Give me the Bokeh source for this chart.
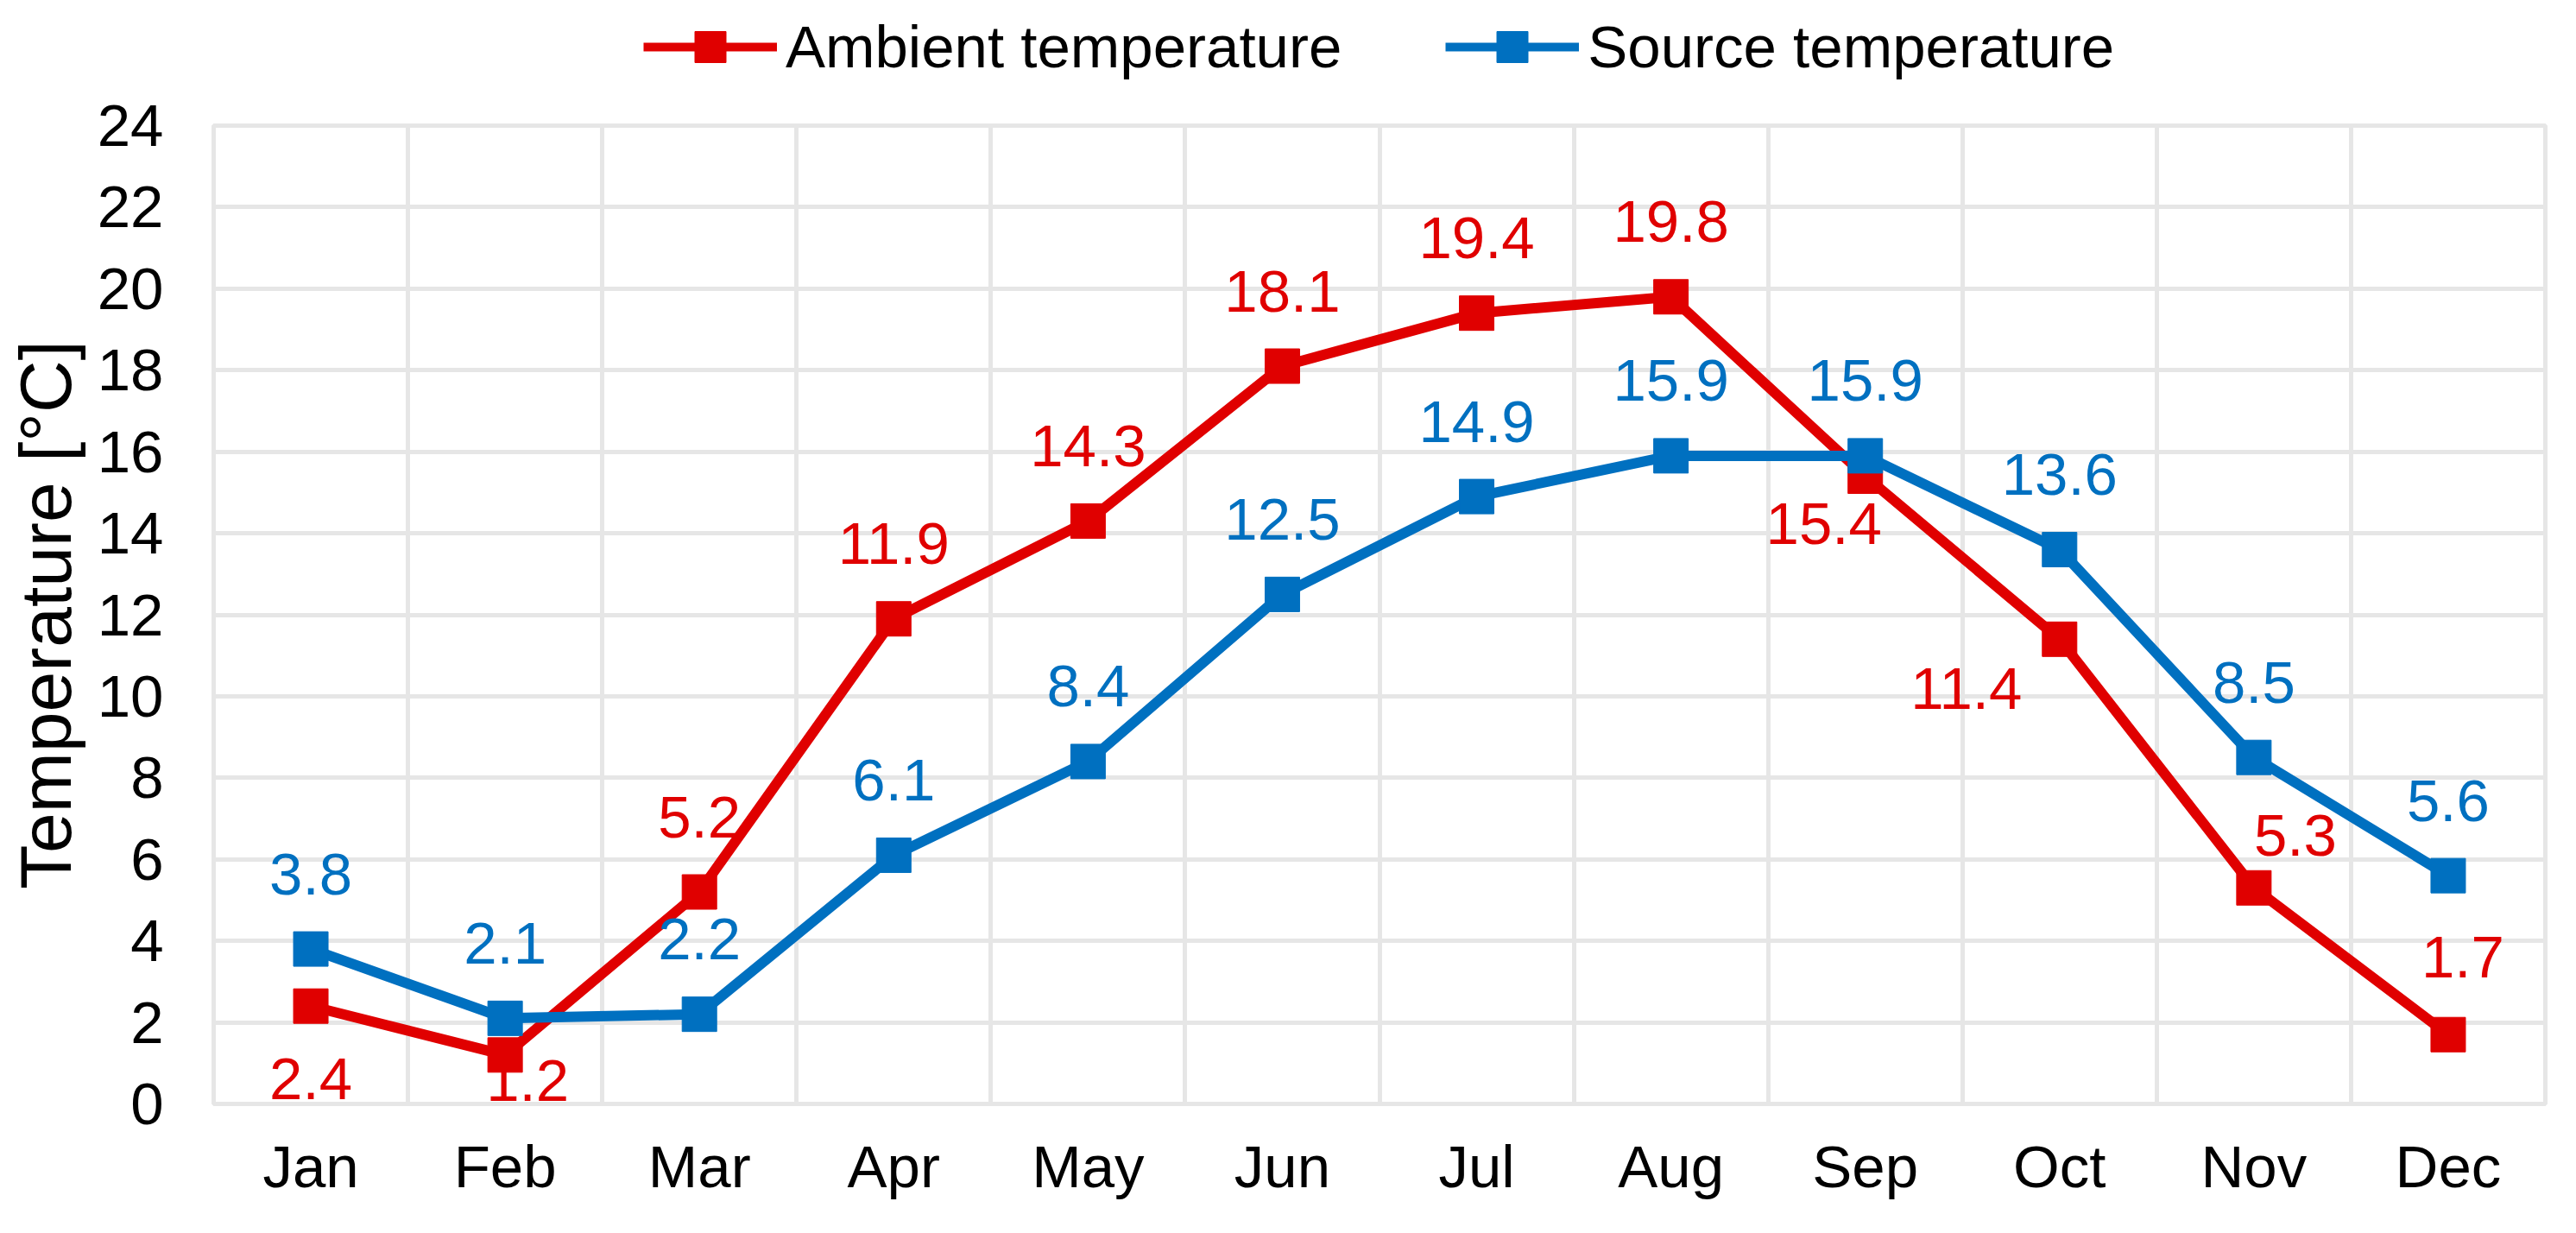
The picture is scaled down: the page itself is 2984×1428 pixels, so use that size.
from bokeh.plotting import figure
from bokeh.layouts import column
from bokeh.models import (FactorRange, Range1d, FixedTicker, Legend, LegendItem,
                          ColumnDataSource)
from bokeh.core.properties import value
from bokeh.embed import file_html
from bokeh.resources import INLINE

months = ["Jan", "Feb", "Mar", "Apr", "May", "Jun", "Jul", "Aug", "Sep", "Oct", "Nov", "Dec"]
ambient = [2.4, 1.2, 5.2, 11.9, 14.3, 18.1, 19.4, 19.8, 15.4, 11.4, 5.3, 1.7]
source = [3.8, 2.1, 2.2, 6.1, 8.4, 12.5, 14.9, 15.9, 15.9, 13.6, 8.5, 5.6]
series_names = ["Ambient temperature", "Source temperature"]
y_ticks = list(range(0, 25, 2))

# label placement (screen px offsets from each point)
amb_dx = [0, 26, 0, 0, 0, 0, 0, 0, -48, -108, 48, 17]
amb_dy = [84, 30, -87, -87, -87, -87, -87, -87, 55, 57, -61, -90]
src_dx = [0] * 12
src_dy = [-87] * 12

RED = "#E00000"
BLUE = "#0070C0"
GRID = "#E6E6E6"
FONT = "Liberation Sans"
FS = "69px"
W = 2968

p = figure(x_range=FactorRange(factors=months, range_padding=0),
           y_range=Range1d(0, 24),
           width=W, height=1312,
           min_border_left=247, min_border_right=20,
           min_border_top=45, min_border_bottom=134,
           output_backend="svg", toolbar_location=None,
           background_fill_color="white", border_fill_color="white")

p.outline_line_color = GRID
p.outline_line_width = 5

p.xgrid.ticker = FixedTicker(ticks=list(range(0, 13)))
p.xgrid.grid_line_color = GRID
p.xgrid.grid_line_width = 5
p.ygrid.ticker = FixedTicker(ticks=y_ticks)
p.ygrid.grid_line_color = GRID
p.ygrid.grid_line_width = 5

p.yaxis.ticker = FixedTicker(ticks=y_ticks)
for ax in (p.xaxis[0], p.yaxis[0]):
    ax.axis_line_color = None
    ax.major_tick_line_color = None
    ax.minor_tick_line_color = None
    ax.major_tick_out = 0
    ax.major_tick_in = 0
    ax.major_label_text_font = FONT
    ax.major_label_text_font_size = FS
    ax.major_label_text_color = "black"
p.xaxis.major_label_standoff = 34
p.yaxis.major_label_standoff = 58
p.yaxis.axis_label = "Temperature [°C]"
p.yaxis.axis_label_text_font = FONT
p.yaxis.axis_label_text_font_size = "84px"
p.yaxis.axis_label_text_font_style = "normal"
p.yaxis.axis_label_text_color = "black"
p.yaxis.axis_label_standoff = 10

src_a = ColumnDataSource(dict(x=months, y=ambient, t=[f"{v:.1f}" for v in ambient], dx=amb_dx, dy=amb_dy))
src_s = ColumnDataSource(dict(x=months, y=source, t=[f"{v:.1f}" for v in source], dx=src_dx, dy=src_dy))

for src, col in ((src_a, RED), (src_s, BLUE)):
    p.line("x", "y", source=src, line_color=col, line_width=12)
    p.scatter("x", "y", source=src, marker="square", size=40, fill_color=col, line_color=col)

for src, col in ((src_a, RED), (src_s, BLUE)):
    p.text("x", "y", text="t", source=src, x_offset="dx", y_offset="dy",
           text_align="center", text_baseline="middle",
           text_font=value(FONT), text_font_size=value(FS), text_color=col)

# legend strip above the chart (its series are drawn outside its visible y-window)
lg = figure(width=W, height=100, x_range=FactorRange(factors=months, range_padding=0),
            y_range=Range1d(100, 101),
            x_axis_location=None, y_axis_location=None,
            min_border_left=247, min_border_right=20, min_border_top=0, min_border_bottom=0,
            output_backend="svg", toolbar_location=None,
            background_fill_color="white", border_fill_color="white")
lg.outline_line_color = None
lg.grid.visible = False
items = []
for name, src, col in zip(series_names, (src_a, src_s), (RED, BLUE)):
    r1 = lg.line("x", "y", source=src, line_color=col, line_width=10)
    r2 = lg.scatter("x", "y", source=src, marker="square", fill_color=col, line_color=col)
    items.append(LegendItem(label=name, renderers=[r1, r2]))
legend = Legend(items=items, orientation="horizontal", location=(498, 1),
                glyph_width=155, glyph_height=90, label_standoff=10, spacing=120,
                padding=4, margin=0,
                label_text_font=FONT, label_text_font_size=FS, label_text_color="black",
                border_line_color=None, background_fill_alpha=0)
lg.add_layout(legend, "center")

layout = column(lg, p, spacing=0)
open("out.html", "w").write(file_html(layout, INLINE))
